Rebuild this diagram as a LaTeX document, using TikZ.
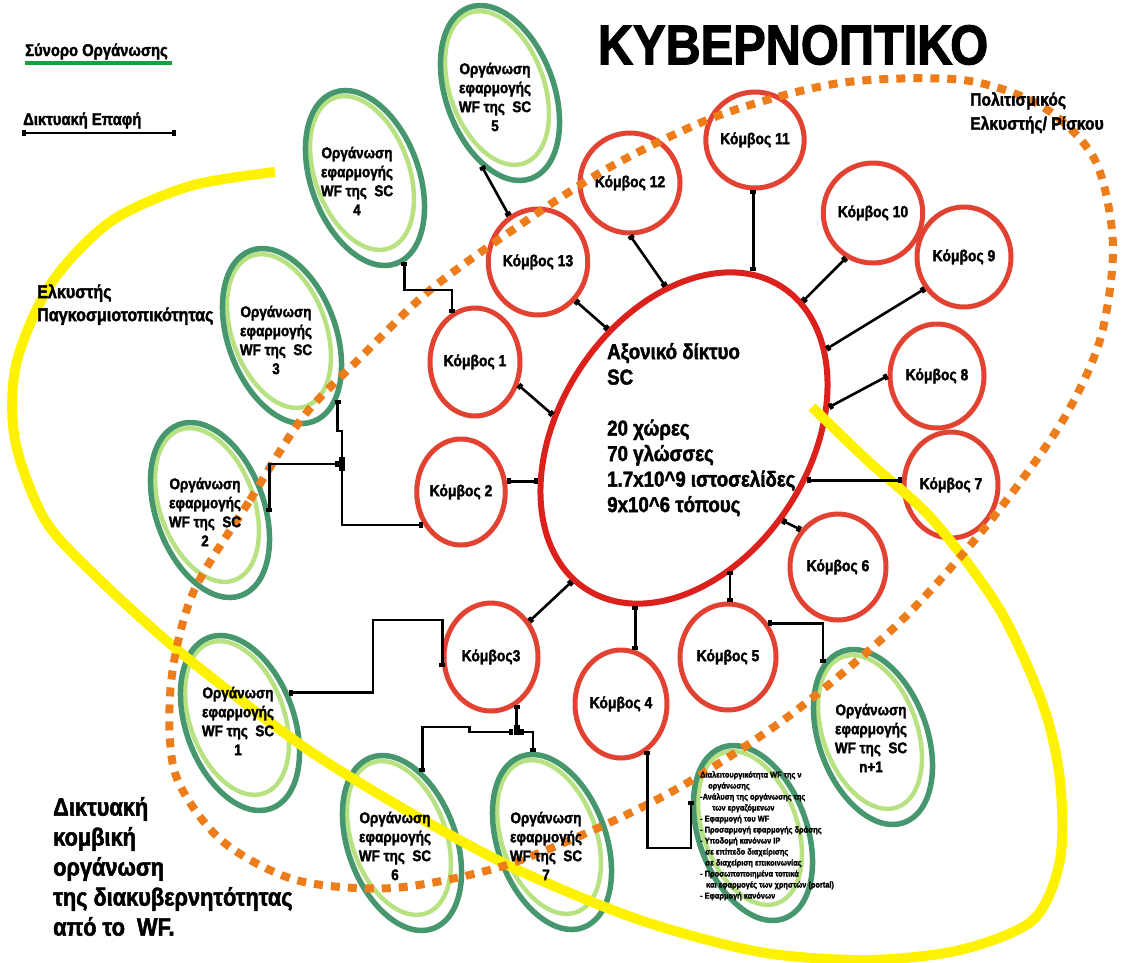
\documentclass[tikz,border=0pt]{standalone}
\usepackage{fontspec}
\setmainfont{Liberation Sans Bold}[FakeStretch=0.87,FakeBold=2]
\usetikzlibrary{shapes.geometric,arrows.meta}

\definecolor{kred}{RGB}{226,66,50}
\definecolor{hubred}{RGB}{220,32,28}
\definecolor{orgdark}{RGB}{70,150,110}
\definecolor{orglight}{RGB}{184,226,130}
\definecolor{riskorange}{RGB}{236,125,26}
\definecolor{globyellow}{RGB}{255,242,0}
\definecolor{legendgreen}{RGB}{24,160,64}

\newcommand{\fsz}[2]{\fontsize{#1}{#2}\selectfont}

\tikzset{
        hub/.style = {ellipse, draw=hubred, line width=6pt, minimum width=360pt, minimum height=250pt, inner sep=0pt, rotate=57},
        knode/.style = {ellipse, draw=kred, line width=5pt, inner sep=0pt, font=\fsz{16}{18}},
        org/.style = {ellipse, draw=orgdark, line width=5.5pt, minimum width=182pt, minimum height=108pt, inner sep=0pt, rotate=-70},
        orgin/.style = {ellipse, draw=orglight, line width=4.5pt, minimum width=160pt, minimum height=94pt, inner sep=0pt, rotate=-70},
        orgtext/.style = {align=center, inner sep=0pt, font=\fsz{15.5}{19}},
        note/.style = {align=left, inner sep=0pt, anchor=north west},
        link/.style = {line width=2.6pt, arrows={Square[length=4pt,width=6pt]-Square[length=4pt,width=6pt]}},
        joint/.style = {rectangle, fill=black, minimum size=6pt, inner sep=0pt},
        globring/.style = {draw=globyellow, line width=10pt},
        riskring/.style = {draw=riskorange, line width=8pt, dash pattern=on 9pt off 8pt}
    }

\begin{document}
\begin{tikzpicture}[x=1pt,y=-1pt]
            \useasboundingbox (0,0) rectangle (1121,962);

            % axis network and nodes
            \node[hub] (hub) at (684,438) {};

            \node[knode,minimum width=90pt,minimum height=108pt] (k1) at (475,362) {Κόμβος 1};
            \node[knode,minimum width=86pt,minimum height=106pt] (k2) at (461,492) {Κόμβος 2};
            \node[knode,minimum width=94pt,minimum height=108pt] (k3) at (491,657) {Κόμβος3};
            \node[knode,minimum width=92pt,minimum height=108pt] (k4) at (621,704) {Κόμβος 4};
            \node[knode,minimum width=96pt,minimum height=106pt] (k5) at (728,657) {Κόμβος 5};
            \node[knode,minimum width=96pt,minimum height=106pt] (k6) at (838,567) {Κόμβος 6};
            \node[knode,minimum width=94pt,minimum height=106pt] (k7) at (951,485) {Κόμβος 7};
            \node[knode,minimum width=94pt,minimum height=104pt] (k8) at (937,376) {Κόμβος 8};
            \node[knode,minimum width=94pt,minimum height=100pt] (k9) at (964,257) {Κόμβος 9};
            \node[knode,minimum width=92pt,minimum height=100pt] (k10) at (873,213) {Κόμβος 10};
            \node[knode,minimum width=88pt,minimum height=96pt] (k11) at (755,140) {Κόμβος 11};
            \node[knode,minimum width=100pt,minimum height=100pt] (k12) at (630,183) {Κόμβος 12};
            \node[knode,minimum width=92pt,minimum height=106pt] (k13) at (538,262) {Κόμβος 13};

            % organisations
            \node[orgin] (sc1in) at (237,718) {};
            \node[orgin] (sc2in) at (207,505) {};
            \node[orgin] (sc3in) at (279,331) {};
            \node[orgin] (sc4in) at (362,173) {};
            \node[orgin] (sc5in) at (497,88) {};
            \node[orgin] (sc6in) at (399,838) {};
            \node[orgin] (sc7in) at (549,837) {};
            \node[orgin] (scnin) at (870,732) {};
            \node[orgin] (listin) at (750,828) {};

            \node[org] (sc1) at (240,723) {};
            \node[org] (sc2) at (210,510) {};
            \node[org] (sc3) at (282,336) {};
            \node[org] (sc4) at (365,178) {};
            \node[org] (sc5) at (500,93) {};
            \node[org] (sc6) at (402,843) {};
            \node[org] (sc7) at (552,842) {};
            \node[org] (scn) at (873,737) {};
            \node[org] (list) at (753,833) {};

            % attractors
            \draw[globring] plot[smooth] coordinates {(275,172) (190,186) (110,222) (50,285) (16,365) (15,440) (45,520) (100,580) (186,657) (304,747) (411,813) (518,870) (640,920) (760,952) (867,960) (960,950) (1033,920) (1060,860) (1060,780) (1043,705) (1000,610) (933,520) (867,460) (812,407)};
            \draw[riskring] plot[smooth cycle] coordinates {(193,593) (250,500) (303,417) (360,358) (430,290) (517,227) (610,167) (720,115) (840,83) (963,80) (1043,107) (1095,160) (1113,245) (1100,340) (1060,425) (987,525) (900,622) (793,713) (687,783) (600,827) (500,867) (393,888) (296,880) (221,840) (175,773) (171,683)};

            % links
            \draw[link] (k1.-28) -- (hub.113);
            \draw[link] (k2.13) -- (k2.13 -| hub.140);
            \draw[link] (k3.43) -- (hub.175);
            \draw[link] (k4.75) -- (k4.75 |- hub.-164);
            \draw[link] (k5.88) -- (k5.88 |- hub.-127);
            \draw[link] (k6.135) -- (hub.-97);
            \draw[link] (hub.-76) -- (hub.-76 -| k7.173);
            \draw[link] (hub.-45) -- (k8.180);
            \draw[link] (hub.-25) -- (k9.-141);
            \draw[link] (hub.-8) -- (k10.-121);
            \draw[link] (k11.-92) -- (k11.-92 |- hub.11);
            \draw[link] (hub.40) -- (k12.-90);
            \draw[link] (hub.68) -- (k13.-46);

            \draw[link] (sc5.-34) -- (k13.122);
            \coordinate (turn1) at (0,290);
            \draw[link] (sc4.5) |- (k1.115 |- turn1) -- (k1.115);

            \node[joint] (j1) at (342,464) {};
            \draw[link] (sc3.21) |- (342,431) -- (j1);
            \draw[link] (j1) |- (k2.221);
            \draw[link] (j1) -| (sc2.68);

            \draw[link] (k3.-168) |- (373,620) |- (sc1.102);
            \coordinate (turn3) at (0,732);
            \node[joint] (j2) at (k3.-62 |- turn3) {};
            \draw[link] (k3.-62) -- (j2);
            \draw[link] (j2) -- ++(-47,0) -- ++(0,-5) -| (sc6.144);
            \draw[link] (j2) -| (sc7.172);

            \draw[link] (k5.40) -| (scn.-166);
            \coordinate (turn4) at (0,848);
            \draw[link] (k4.-61) |- (list.-137 |- turn4) -- (list.-137);

            % texts
            \node[orgtext] (t1) at (238,721) {Οργάνωση\\εφαρμογής\\WF της \ SC\\1};
            \node[orgtext] (t2) at (205,512) {Οργάνωση\\εφαρμογής\\WF της \ SC\\2};
            \node[orgtext] (t3) at (276,340) {Οργάνωση\\εφαρμογής\\WF της \ SC\\3};
            \node[orgtext] (t4) at (357,181) {Οργάνωση\\εφαρμογής\\WF της \ SC\\4};
            \node[orgtext] (t5) at (495,97) {Οργάνωση\\εφαρμογής\\WF της \ SC\\5};
            \node[orgtext] (t6) at (395,846) {Οργάνωση\\εφαρμογής\\WF της \ SC\\6};
            \node[orgtext] (t7) at (546,846) {Οργάνωση\\εφαρμογής\\WF της \ SC\\7};
            \node[orgtext] (tn) at (871,738) {Οργάνωση\\εφαρμογής\\WF της \ SC\\n+1};

            \node[note,font=\fsz{8.5}{11}] (listtext) at (700,771) {Διαλειτουργικότητα WF της ν\\\hspace*{8pt}οργάνωσης\\-Ανάλυση της οργάνωσης της\\\hspace*{12pt}των εργαζόμενων\\- Εφαρμογή του WF\\- Προσαρμογή εφαρμογής δράσης\\- Υποδομή κανόνων IP\\\hspace*{5pt}σε επίπεδο διαχείρισης\\\hspace*{5pt}σε διαχείριση επικοινωνίας\\- Προσωποποιημένα τοπικά\\\hspace*{6pt}και εφαρμογές των χρηστών (portal)\\- Εφαρμογή κανόνων};

            \node[note,font=\fsz{21.5}{25.5}] (hubtext) at (607,343) {Αξονικό δίκτυο\\SC\\[25.5pt]20 χώρες\\70 γλώσσες\\1.7x10\^{}9 ιστοσελίδες\\9x10\^{}6 τόπους};

            \node[font=\fsz{56}{60},inner sep=0pt] (title) at (793,45) {ΚΥΒΕΡΝΟΠΤΙΚΟ};
            \node[note,font=\fsz{18.5}{23}] (glob) at (37,284) {Ελκυστής\\Παγκοσμιοτοπικότητας};
            \node[note,font=\fsz{18}{24}] (risk) at (970,92) {Πολιτισμικός\\Ελκυστής/ Ρίσκου};
            \node[note,font=\fsz{25}{30}] (summary) at (53,797) {Δικτυακή\\κομβική\\οργάνωση\\της διακυβερνητότητας\\από το \ WF.};

            % legend
            \node[font=\fsz{17}{20},inner sep=0pt,anchor=base west] (leg1) at (25,56) {Σύνορο Οργάνωσης};
            \draw[legendgreen,line width=4.5pt] (25,63) -- (172,63);
            \node[font=\fsz{17}{20},inner sep=0pt,anchor=base west] (leg2) at (23,125) {Δικτυακή Επαφή};
            \coordinate (lega) at (22,133);
            \coordinate (legb) at (176,133);
            \draw[link] (lega) -- (legb);
        \end{tikzpicture}
\end{document}
